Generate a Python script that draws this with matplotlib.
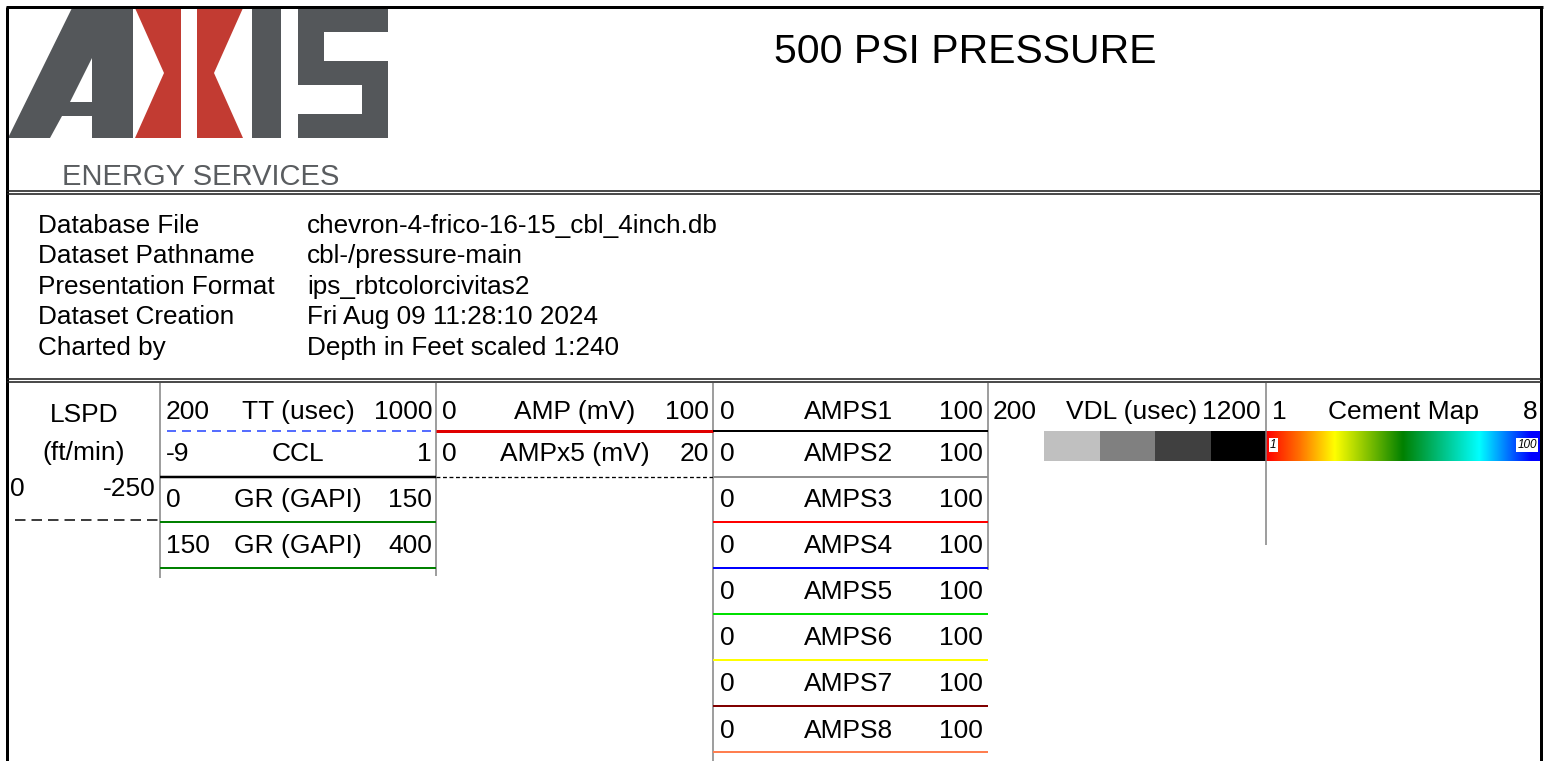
import matplotlib
matplotlib.use("Agg")
import matplotlib.pyplot as plt
from matplotlib import font_manager
from matplotlib.patches import Polygon, Rectangle
from matplotlib.colors import LinearSegmentedColormap
import numpy as np

# ---------------- data ----------------
title = "500 PSI PRESSURE"
company = "ENERGY SERVICES"

info_labels = ["Database File", "Dataset Pathname", "Presentation Format",
               "Dataset Creation", "Charted by"]
info_values = ["chevron-4-frico-16-15_cbl_4inch.db", "cbl-/pressure-main",
               "ips_rbtcolorcivitas2", "Fri Aug 09 11:28:10 2024",
               "Depth in Feet scaled 1:240"]

lspd_title = ["LSPD", "(ft/min)"]
lspd_range = ["0", "-250"]

tt_names = ["TT (usec)", "CCL", "GR (GAPI)", "GR (GAPI)"]
tt_left = ["200", "-9", "0", "150"]
tt_right = ["1000", "1", "150", "400"]
tt_colors = ["#1f3fff", "black", "#008000", "#008000"]
tt_styles = ["dashed", "solid", "solid", "solid"]

amp_names = ["AMP (mV)", "AMPx5 (mV)"]
amp_left = ["0", "0"]
amp_right = ["100", "20"]
amp_colors = ["#e00000", "black"]
amp_styles = ["solid", "dotted"]

amps_names = ["AMPS1", "AMPS2", "AMPS3", "AMPS4", "AMPS5", "AMPS6", "AMPS7", "AMPS8"]
amps_left = ["0", "0", "0", "0", "0", "0", "0", "0"]
amps_right = ["100", "100", "100", "100", "100", "100", "100", "100"]
amps_colors = ["black", "#909090", "#ff0000", "#0000ff", "#00e000", "#ffff00",
               "#800000", "#ff7f50"]

vdl_name = "VDL (usec)"
vdl_range = ["200", "1200"]
vdl_shades = ["#c0c0c0", "#808080", "#404040", "#000000"]

cement_name = "Cement Map"
cement_range = ["1", "8"]
cement_scale = ["1", "100"]
cement_stops = [0.0, 0.12, 0.25, 0.5, 0.78, 0.97, 1.0]
cement_colors = ["#ff0000", "#ff7000", "#ffff00", "#008000", "#00ffff", "#0000ff", "#0000ff"]

# ---------------- fonts ----------------
def has_font(name):
    try:
        font_manager.findfont(name, fallback_to_default=False)
        return True
    except Exception:
        return False

plt.rcParams['font.family'] = ['Liberation Sans', 'DejaVu Sans']
narrow = has_font('Liberation Sans Narrow')

# ---------------- figure ----------------
W, H = 1554, 761
fig = plt.figure(figsize=(W / 100, H / 100), dpi=100)
ax = fig.add_axes([0, 0, 1, 1])
ax.set_xlim(0, W)
ax.set_ylim(H, 0)
ax.axis('off')

PX = 0.72  # points per pixel

def hline(y, x0, x1, color="black", lw=1.5, dashes=None):
    ln, = ax.plot([x0, x1], [y, y], color=color, lw=lw * PX, solid_capstyle='butt')
    if dashes is not None:
        ln.set_dashes(dashes)
    return ln

def vline(x, y0, y1, color="black", lw=1.5):
    ax.plot([x, x], [y0, y1], color=color, lw=lw * PX, solid_capstyle='butt')

# ---- outer frame ----
L, R, T = 7, 1541, 7
hline(T, L - 1.5, R + 1.5, lw=3)
vline(L, T, H, lw=3)
vline(R, T, H, lw=3)
for y in (190.5, 193.5, 378.5, 381.5):
    hline(y, L, R, color="#202020", lw=1.6)

# ---- logo ----
gray = "#54575a"
red = "#c23b32"
a_outer = [(8, 138), (72, 8), (133, 8), (133, 138), (92, 138), (92, 116),
           (62, 116), (50, 138)]
ax.add_patch(Polygon(a_outer, closed=True, fc=gray, ec="none"))
ax.add_patch(Polygon([(70, 102), (92, 58), (92, 102)], closed=True, fc="white", ec="none"))
ax.add_patch(Polygon([(135, 8), (181, 8), (181, 138), (135, 138), (164, 73)],
                     closed=True, fc=red, ec="none"))
ax.add_patch(Polygon([(197, 8), (243, 8), (214, 73), (243, 138), (197, 138)],
                     closed=True, fc=red, ec="none"))
ax.add_patch(Rectangle((252, 8), 29, 130, fc=gray, ec="none"))
s_parts = [(298, 8, 90, 24), (298, 8, 26, 76), (298, 61, 90, 24),
           (362, 61, 26, 77), (298, 114, 90, 24)]
for (x, y, w, h) in s_parts:
    ax.add_patch(Rectangle((x, y), w, h, fc=gray, ec="none"))
ax.text(62, 177, company, fontsize=21, color="#5a5d60", ha="left", va="center")

# ---- title ----
if narrow:
    ax.text(965, 52, title, fontsize=33, family=['Liberation Sans Narrow', 'DejaVu Sans'],
            ha="center", va="center", color="black")
else:
    ax.text(965, 52, title, fontsize=29.5, ha="center", va="center", color="black")

# ---- info box ----
info_y = [226, 256, 287, 317, 348]
for lab, val, y in zip(info_labels, info_values, info_y):
    ax.text(38, y, lab, fontsize=18.8, ha="left", va="center")
    ax.text(307, y, val, fontsize=18.8, ha="left", va="center")

# ---- track section ----
FS = 19
TOP = 383
vline(160, TOP, 578, color="#808080")
vline(436, TOP, 576, color="#808080")
vline(713, TOP, H, color="#808080")
vline(988, TOP, 570, color="#808080")
vline(1266, TOP, 545, color="#808080")

# LSPD
ax.text(84, 415, lspd_title[0], fontsize=FS, ha="center", va="center")
ax.text(84, 453, lspd_title[1], fontsize=FS, ha="center", va="center")
ax.text(10, 489, lspd_range[0], fontsize=FS, ha="left", va="center")
ax.text(156, 489, lspd_range[1], fontsize=FS, ha="right", va="center")
hline(520, 15, 158, color="black", lw=1.5, dashes=(7, 4))

# TT / CCL / GR
row_y = [412, 454, 500, 546, 592, 638, 684, 731]
line_y = [431, 477, 522, 568, 614, 660, 706, 752]
for i, (nm, lo, hi, c, st) in enumerate(zip(tt_names, tt_left, tt_right, tt_colors, tt_styles)):
    ax.text(166, row_y[i], lo, fontsize=FS, ha="left", va="center")
    ax.text(298, row_y[i], nm, fontsize=FS, ha="center", va="center")
    ax.text(432, row_y[i], hi, fontsize=FS, ha="right", va="center")
    if st == "dashed":
        hline(line_y[i], 167, 436, color=c, lw=1.5, dashes=(6, 4))
    else:
        hline(line_y[i], 160, 436, color=c, lw=2.5 if c == "black" else 2)

# AMP
for i, (nm, lo, hi, c, st) in enumerate(zip(amp_names, amp_left, amp_right, amp_colors, amp_styles)):
    ax.text(442, row_y[i], lo, fontsize=FS, ha="left", va="center")
    ax.text(575, row_y[i], nm, fontsize=FS, ha="center", va="center")
    ax.text(709, row_y[i], hi, fontsize=FS, ha="right", va="center")
    if st == "dotted":
        hline(line_y[i], 436, 713, color=c, lw=1.3, dashes=(3, 2))
    else:
        hline(line_y[i], 436, 713, color=c, lw=3)

# AMPS
for i, (nm, lo, hi, c) in enumerate(zip(amps_names, amps_left, amps_right, amps_colors)):
    ax.text(720, row_y[i], lo, fontsize=FS, ha="left", va="center")
    ax.text(849, row_y[i], nm, fontsize=FS, ha="center", va="center")
    ax.text(983, row_y[i], hi, fontsize=FS, ha="right", va="center")
    hline(line_y[i], 713, 988, color=c, lw=2)

# VDL
ax.text(993, row_y[0], vdl_range[0], fontsize=FS, ha="left", va="center")
ax.text(1132, row_y[0], vdl_name, fontsize=FS, ha="center", va="center")
ax.text(1261, row_y[0], vdl_range[1], fontsize=FS, ha="right", va="center")
seg_w = (1266 - 1044) / len(vdl_shades)
for k, sh in enumerate(vdl_shades):
    ax.add_patch(Rectangle((1044 + k * seg_w, 431), seg_w, 30, fc=sh, ec="none"))

# Cement map
ax.text(1272, row_y[0], cement_range[0], fontsize=FS, ha="left", va="center")
ax.text(1403, row_y[0], cement_name, fontsize=FS, ha="center", va="center")
ax.text(1537, row_y[0], cement_range[1], fontsize=FS, ha="right", va="center")
cmap = LinearSegmentedColormap.from_list("cement", list(zip(cement_stops, cement_colors)))
grad = np.linspace(0, 1, 512)[None, :]
ax.imshow(grad, cmap=cmap, extent=(1266, 1540, 461, 431), aspect="auto", interpolation="bilinear")
ax.text(1270, 445, cement_scale[0], fontsize=8.5, style="italic", ha="left", va="center",
        bbox=dict(fc="white", ec="none", pad=0.8))
ax.text(1537, 445, cement_scale[1], fontsize=8.5, style="italic", ha="right", va="center",
        bbox=dict(fc="white", ec="none", pad=0.8))

ax.set_xlim(0, W)
ax.set_ylim(H, 0)
fig.savefig("out.png", dpi=100)
